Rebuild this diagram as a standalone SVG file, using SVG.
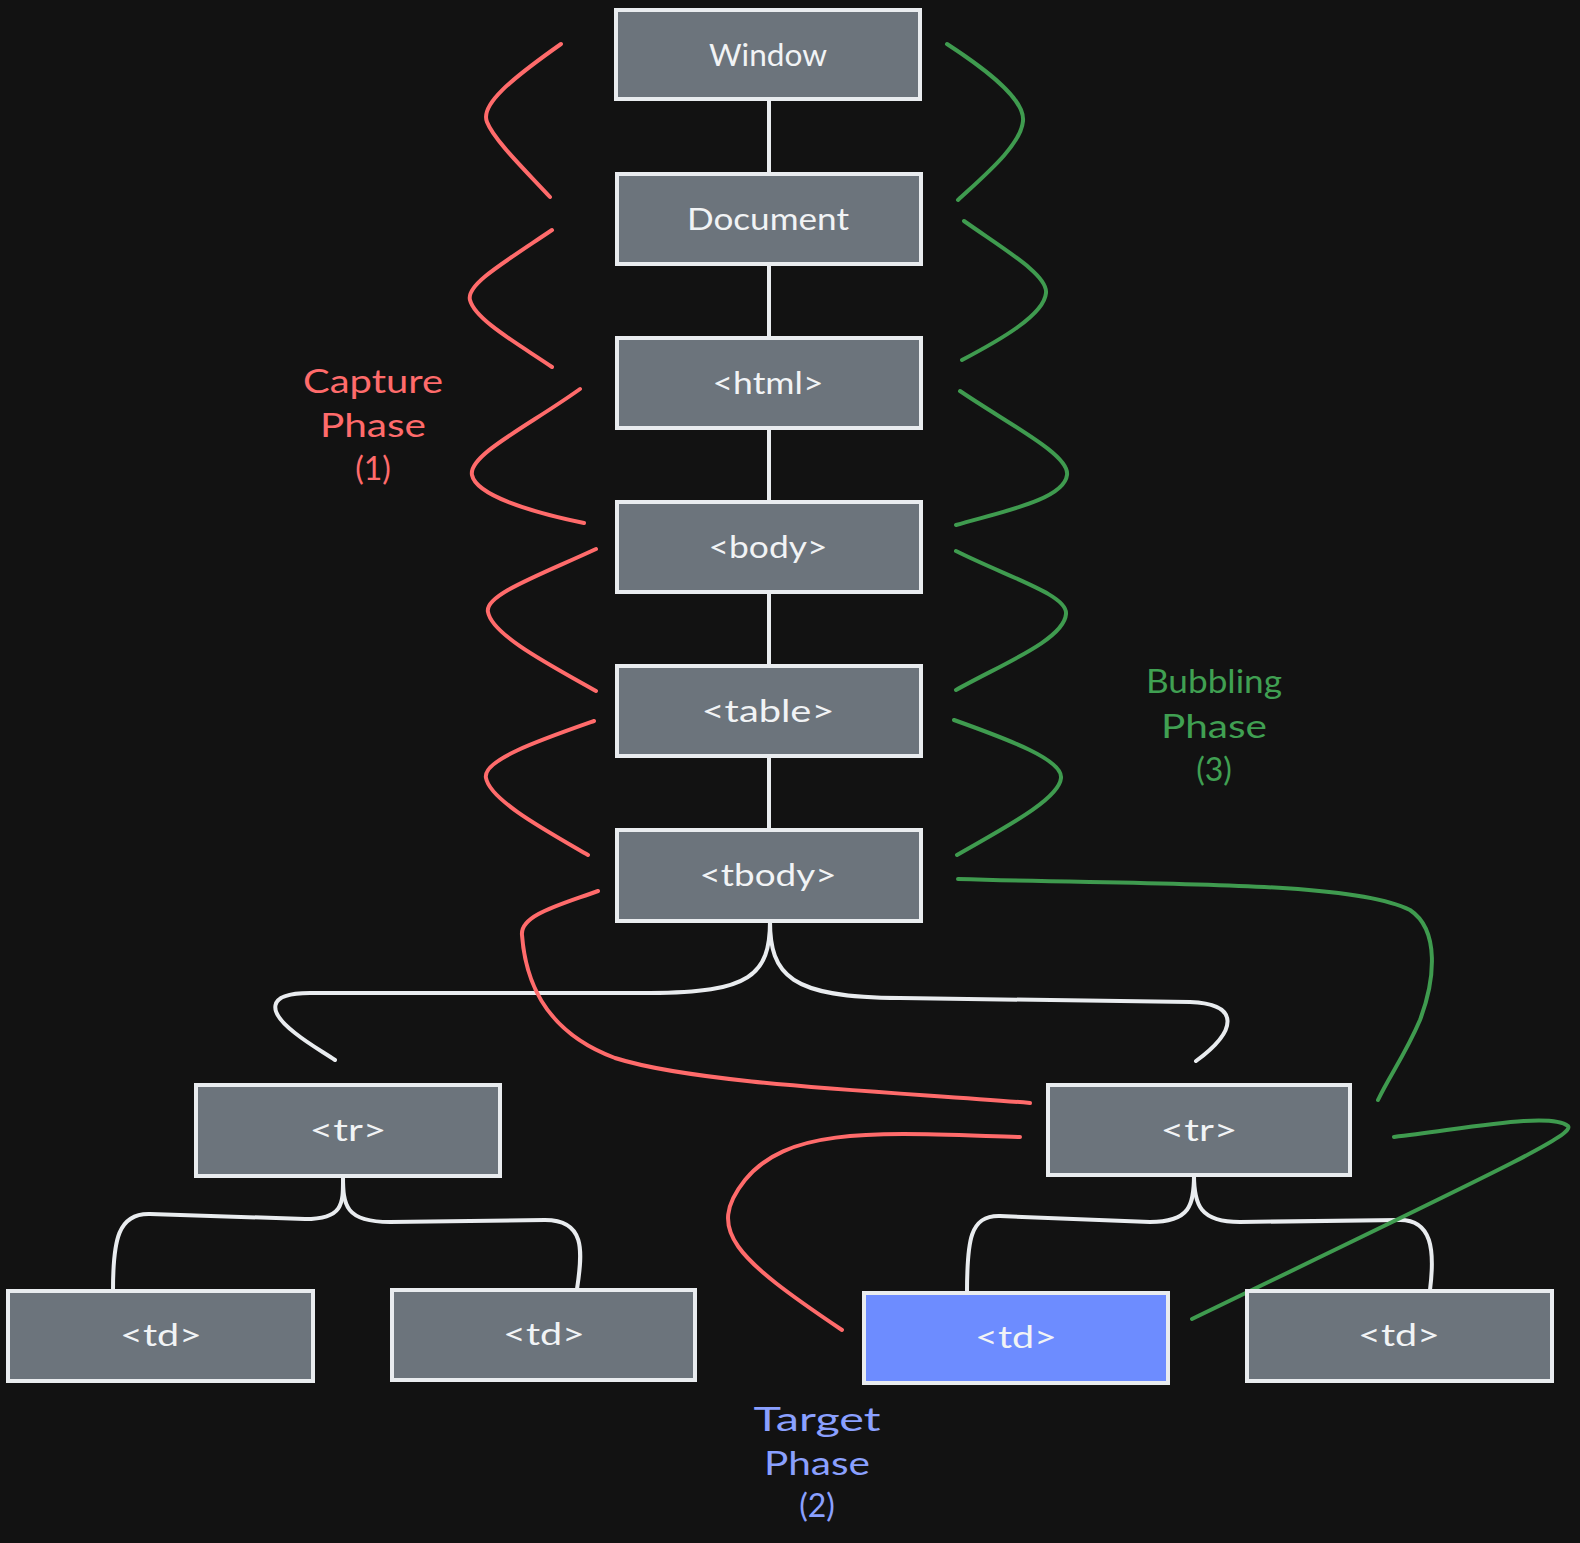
<svg xmlns="http://www.w3.org/2000/svg" width="1580" height="1543" viewBox="0 0 1580 1543">
<style>
.node rect{fill:#6c747c;stroke:#e9ecef;stroke-width:4}
.node.target rect{fill:#6d8cff}
.node text{fill:#f1f3f5;font-family:Lato,"Noto Sans",sans-serif;font-size:30px;text-anchor:middle;dominant-baseline:central}
.tree path{fill:none;stroke:#e9ecef;stroke-width:4;stroke-linecap:round}
.cap path{fill:none;stroke:#ff6b6b;stroke-width:4;stroke-linecap:round}
.bub path{fill:none;stroke:#3f9b4f;stroke-width:4;stroke-linecap:round}
.lbl{font-family:Lato,"Noto Sans",sans-serif;font-size:32px;text-anchor:middle;dominant-baseline:central}
</style>
<rect x="0" y="0" width="1580" height="1543" fill="#121212"/>
<g id="connectors">
<g class="tree">
<path d="M769,99 L769,173"/>
<path d="M769,265 L769,338"/>
<path d="M769,428 L769,502"/>
<path d="M769,592 L769,666"/>
<path d="M769,756 L769,830"/>
<path d="M770,921 C770,975 750,993 650,993 L310,993 C265,993 268,1012 295,1033 C310,1045 325,1053 335,1060"/>
<path d="M770,921 C770,975 790,998 900,998 L1190,1002 C1240,1004 1238,1030 1196,1061"/>
<path d="M343,1176 C343,1202 345,1219 305,1219 L150,1214 C118,1213 113,1240 113,1290"/>
<path d="M343,1176 C343,1205 345,1222 390,1222 L545,1220 C585,1220 583,1250 577,1289"/>
<path d="M1194,1175 C1194,1205 1190,1222 1150,1222 L1000,1216 C970,1215 967,1240 967,1293"/>
<path d="M1194,1175 C1194,1205 1200,1222 1240,1222 L1400,1220 C1432,1220 1435,1250 1430,1290"/>
</g>
<g class="cap">
<path d="M561,44 C510,80 480,105 487,122 C494,140 525,170 550,197"/>
<path d="M552,230 C500,265 466,285 470,300 C475,320 520,345 552,367"/>
<path d="M580,389 C530,425 468,455 472,475 C476,495 530,512 584,523"/>
<path d="M596,549 C540,575 484,595 488,612 C492,635 550,665 596,691"/>
<path d="M594,721 C540,740 482,760 486,778 C490,800 545,830 588,855"/>
<path d="M598,891 C560,905 520,915 522,935 C525,975 540,1030 615,1058 C700,1085 900,1092 1030,1103"/>
<path d="M1020,1137 C880,1133 790,1125 745,1180 C705,1230 735,1258 842,1330"/>
</g>
<g class="bub">
<path d="M947,44 C990,72 1025,100 1023,121 C1021,145 985,175 958,200"/>
<path d="M964,221 C1005,250 1048,275 1046,293 C1044,315 1000,340 962,360"/>
<path d="M960,391 C1010,425 1070,455 1067,475 C1064,500 1000,512 956,525"/>
<path d="M956,551 C1010,578 1068,595 1066,614 C1064,640 1000,665 956,690"/>
<path d="M954,720 C1010,740 1063,760 1061,778 C1059,800 1000,830 957,855"/>
<path d="M958,879 C1150,885 1350,880 1410,910 C1440,930 1435,980 1420,1020 C1405,1055 1390,1075 1378,1100"/>
<path d="M1394,1137 C1470,1128 1550,1112 1568,1126 C1575,1135 1500,1170 1192,1319"/>
</g>
</g>
<g id="window" class="node"><rect x="616" y="10" width="304" height="89"/><text x="768" y="54" textLength="118" lengthAdjust="spacingAndGlyphs">Window</text></g>
<g id="document" class="node"><rect x="617" y="174" width="304" height="90"/><text x="768" y="218" textLength="162" lengthAdjust="spacingAndGlyphs">Document</text></g>
<g id="html" class="node"><rect x="617" y="338" width="304" height="90"/><text x="768" y="382" textLength="111" lengthAdjust="spacingAndGlyphs">&lt;html&gt;</text></g>
<g id="body" class="node"><rect x="617" y="502" width="304" height="90"/><text x="768" y="546" textLength="119" lengthAdjust="spacingAndGlyphs">&lt;body&gt;</text></g>
<g id="table" class="node"><rect x="617" y="666" width="304" height="90"/><text x="768" y="710" textLength="133" lengthAdjust="spacingAndGlyphs">&lt;table&gt;</text></g>
<g id="tbody" class="node"><rect x="617" y="830" width="304" height="91"/><text x="768" y="874" textLength="137" lengthAdjust="spacingAndGlyphs">&lt;tbody&gt;</text></g>
<g id="tr-left" class="node"><rect x="196" y="1085" width="304" height="91"/><text x="348" y="1129" textLength="77" lengthAdjust="spacingAndGlyphs">&lt;tr&gt;</text></g>
<g id="tr-right" class="node"><rect x="1048" y="1085" width="302" height="90"/><text x="1199" y="1129" textLength="77" lengthAdjust="spacingAndGlyphs">&lt;tr&gt;</text></g>
<g id="td-1" class="node"><rect x="8" y="1291" width="305" height="90"/><text x="161" y="1334" textLength="82" lengthAdjust="spacingAndGlyphs">&lt;td&gt;</text></g>
<g id="td-2" class="node"><rect x="392" y="1290" width="303" height="90"/><text x="544" y="1333" textLength="82" lengthAdjust="spacingAndGlyphs">&lt;td&gt;</text></g>
<g id="td-target" class="node target"><rect x="864" y="1293" width="304" height="90"/><text x="1016" y="1336" textLength="82" lengthAdjust="spacingAndGlyphs">&lt;td&gt;</text></g>
<g id="td-4" class="node"><rect x="1247" y="1291" width="305" height="90"/><text x="1399" y="1334" textLength="82" lengthAdjust="spacingAndGlyphs">&lt;td&gt;</text></g>
<g id="capture-label" class="lbl" fill="#ff6b6b">
<text x="373" y="380" textLength="140" lengthAdjust="spacingAndGlyphs">Capture</text>
<text x="373" y="424" textLength="106" lengthAdjust="spacingAndGlyphs">Phase</text>
<text x="373" y="467">(1)</text>
</g>
<g id="bubbling-label" class="lbl" fill="#40a052">
<text x="1214" y="680" textLength="136" lengthAdjust="spacingAndGlyphs">Bubbling</text>
<text x="1214" y="725" textLength="106" lengthAdjust="spacingAndGlyphs">Phase</text>
<text x="1214" y="768">(3)</text>
</g>
<g id="target-label" class="lbl" fill="#8aa0ff">
<text x="817" y="1418" textLength="127" lengthAdjust="spacingAndGlyphs">Target</text>
<text x="817" y="1462" textLength="106" lengthAdjust="spacingAndGlyphs">Phase</text>
<text x="817" y="1504">(2)</text>
</g>
</svg>
